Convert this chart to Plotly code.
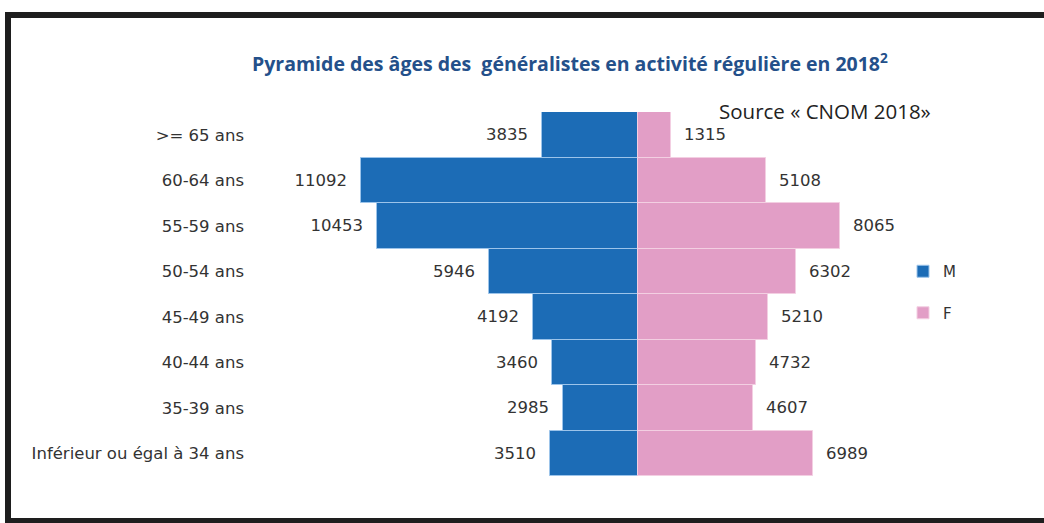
import plotly.graph_objects as go

categories = [">= 65 ans", "60-64 ans", "55-59 ans", "50-54 ans", "45-49 ans",
              "40-44 ans", "35-39 ans", "Inférieur ou égal à 34 ans"]
hommes = [3835, 11092, 10453, 5946, 4192, 3460, 2985, 3510]
femmes = [1315, 5108, 8065, 6302, 5210, 4732, 4607, 6989]

title_text = "Pyramide des âges des  généralistes en activité régulière en 2018<sup>2</sup>"
source_text = "Source « CNOM 2018»"

W, H = 1044, 523
L, R, T, B = 250, 144, 112, 47
PW, PH = W - L - R, H - T - B
SCALE = 0.025  # px per unit
x_min = -(638 - L) / SCALE
x_max = (L + PW - 638) / SCALE

BLUE = "#1c6cb6"
PINK = "#e29ec6"
TXT = "#333333"

fig = go.Figure()
fig.add_trace(go.Bar(
    y=categories, x=[-v for v in hommes], orientation="h", name="M",
    marker=dict(color=BLUE, line=dict(color="#9cc4ea", width=1)),
    text=[f"{v}  " for v in hommes], textposition="outside",
    textfont=dict(family="DejaVu Sans", size=16.5, color=TXT),
    cliponaxis=False, legendgroup="M",
))
fig.add_trace(go.Bar(
    y=categories, x=femmes, orientation="h", name="F",
    marker=dict(color=PINK, line=dict(color="#f3cfe2", width=1)),
    text=[f"  {v}" for v in femmes], textposition="outside",
    textfont=dict(family="DejaVu Sans", size=16.5, color=TXT),
    cliponaxis=False, legendgroup="F",
))

def px_x(px):
    return (px - L) / PW

def px_y(py):
    return (H - B - py) / PH

fig.update_layout(
    width=W, height=H,
    margin=dict(l=L, r=R, t=T, b=B, autoexpand=False),
    paper_bgcolor="white", plot_bgcolor="white",
    barmode="relative", bargap=0,
    showlegend=True,
    legend=dict(x=px_x(903), y=px_y(255), xanchor="left", yanchor="top",
                font=dict(family="DejaVu Sans", size=15, color=TXT),
                tracegroupgap=19, traceorder="grouped", itemwidth=30,
                bgcolor="rgba(0,0,0,0)"),
    xaxis=dict(range=[x_min, x_max], visible=False, fixedrange=True),
    yaxis=dict(categoryorder="array", categoryarray=categories,
               autorange="reversed", showgrid=False, zeroline=False,
               showline=False, ticks="", ticklabelstandoff=5,
               tickfont=dict(family="DejaVu Sans", size=16.5, color=TXT)),
    font=dict(family="DejaVu Sans"),
    annotations=[
        dict(text=title_text, xref="paper", yref="paper",
             x=px_x(570), y=px_y(62), xanchor="center", yanchor="middle",
             showarrow=False,
             font=dict(family="Open Sans", size=19.5, color="#24508a", weight="bold")),
        dict(text=source_text, xref="paper", yref="paper",
             x=px_x(717), y=px_y(111), xanchor="left", yanchor="middle",
             showarrow=False,
             font=dict(family="Open Sans", size=20.5, color="#222222")),
    ],
    shapes=[
        dict(type="rect", xref="paper", yref="paper",
             x0=px_x(8), x1=px_x(1060), y0=px_y(521), y1=px_y(15),
             line=dict(color="#1e1e1e", width=6), fillcolor="rgba(0,0,0,0)"),
    ],
)

fig.write_html("out.html", config={"displayModeBar": False},
               post_script="document.body.style.margin='0';")
